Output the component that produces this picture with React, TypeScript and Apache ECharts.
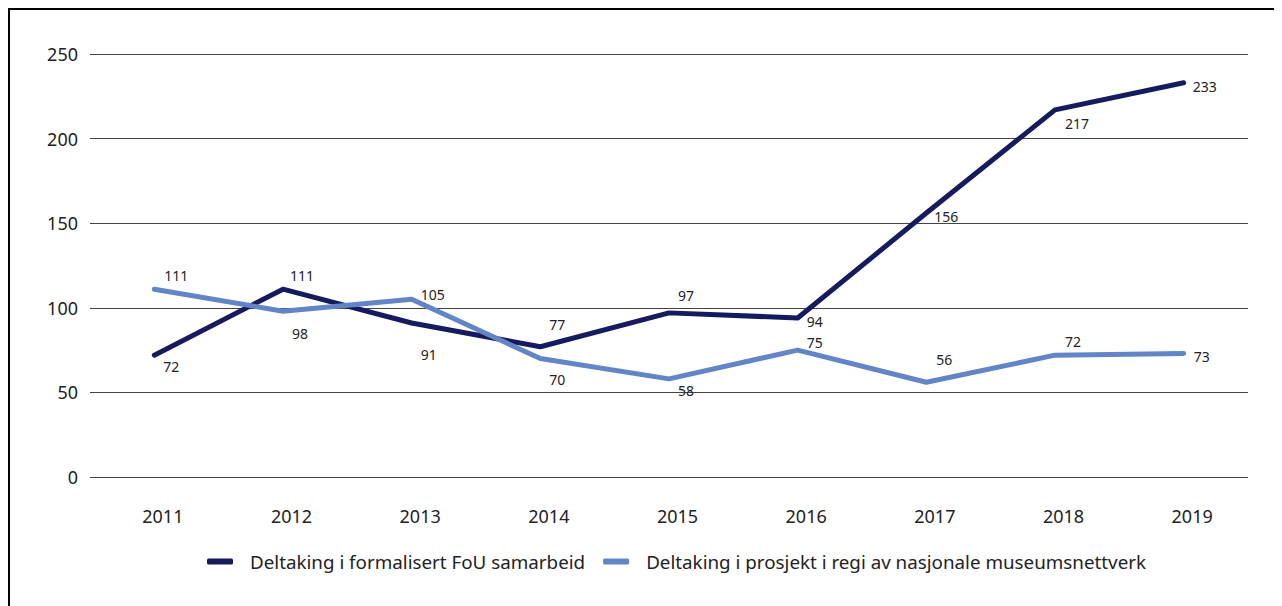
import React, { useEffect, useRef } from "react";
import * as echarts from "echarts";

const years = ["2011", "2012", "2013", "2014", "2015", "2016", "2017", "2018", "2019"];
const fouSamarbeid = [72, 111, 91, 77, 97, 94, 156, 217, 233];
const museumsnettverk = [111, 98, 105, 70, 58, 75, 56, 72, 73];
const seriesNames = [
  "Deltaking i formalisert FoU samarbeid",
  "Deltaking i prosjekt i regi av nasjonale museumsnettverk",
];
const yTicks = { min: 0, max: 250, interval: 50 };

// label placement offsets (style only)
const darkLabelOffsets = [[17, 11], [19, -14], [17, 31], [17, -22], [17, -17], [17, 4], [20, 3], [22, 14], [21, 4]];
const lightLabelOffsets = [[22, -14], [17, 22], [21, -5], [17, 21], [17, 12], [17, -8], [18, -23], [18, -14], [18, 3]];

const DARK = "#161a5e";
const LIGHT = "#6185c7";
const FONT = "Noto Sans";

function build(values: number[], offsets: number[][]) {
  return values.map((v, i) => ({
    value: v,
    label: { offset: offsets[i] },
  }));
}

export default function App() {
  const ref = useRef<HTMLDivElement>(null);
  useEffect(() => {
    document.documentElement.style.overflow = "hidden";
    document.body.style.overflow = "hidden";
    const chart = echarts.init(ref.current!, null, { renderer: "svg" });
    const labelCommon = {
      show: true,
      position: "inside",
      align: "center",
      verticalAlign: "middle",
      color: "#222",
      fontSize: 14,
      fontFamily: FONT,
    };
    chart.setOption({
      animation: false,
      backgroundColor: "#fff",
      textStyle: { fontFamily: FONT },
      grid: { left: 80, top: 44, width: 1158, height: 423, containLabel: false },
      legend: {
        left: 192,
        top: 537,
        itemWidth: 26,
        itemHeight: 6,
        itemGap: 18,
        icon: "roundRect",
        textStyle: { fontSize: 18.8, color: "#222", fontFamily: FONT, padding: [0, 0, 0, 12] },
        data: seriesNames,
      },
      xAxis: {
        type: "category",
        data: years,
        boundaryGap: true,
        axisLine: { show: false },
        axisTick: { show: false },
        axisLabel: { fontSize: 18, color: "#222", margin: 30, fontFamily: FONT, padding: [0, 0, 0, 17] },
      },
      yAxis: {
        type: "value",
        min: yTicks.min,
        max: yTicks.max,
        interval: yTicks.interval,
        axisLine: { show: false },
        axisTick: { show: false },
        axisLabel: { fontSize: 18, color: "#222", margin: 12, fontFamily: FONT },
        splitLine: { lineStyle: { color: "#444", width: 1 } },
      },
      series: [
        {
          name: seriesNames[0],
          type: "line",
          data: build(fouSamarbeid, darkLabelOffsets),
          symbol: "circle",
          symbolSize: 1,
          showSymbol: true,
          color: DARK,
          lineStyle: { color: DARK, width: 5, cap: "round", join: "round" },
          itemStyle: { color: DARK },
          label: labelCommon,
          z: 3,
        },
        {
          name: seriesNames[1],
          type: "line",
          data: build(museumsnettverk, lightLabelOffsets),
          symbol: "circle",
          symbolSize: 1,
          showSymbol: true,
          color: LIGHT,
          lineStyle: { color: LIGHT, width: 5, cap: "round", join: "round" },
          itemStyle: { color: LIGHT },
          label: labelCommon,
          z: 4,
        },
      ],
    });
    return () => chart.dispose();
  }, []);
  return (
    <div style={{ width: 1300, height: 620, border: "2px solid #000", boxSizing: "border-box", background: "#fff" }}>
      <div ref={ref} style={{ width: 1296, height: 616 }} />
    </div>
  );
}
